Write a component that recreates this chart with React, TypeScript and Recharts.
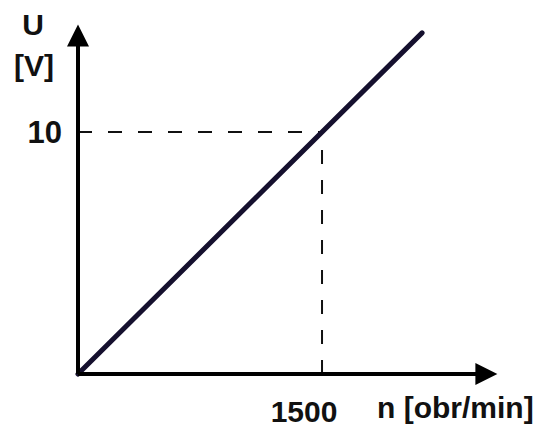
import React from "react";
import { LineChart, Line, XAxis, YAxis, ReferenceLine } from "recharts";

// characteristic U = f(n), straight line through the origin
const speeds = [0, 2115];
const voltages = [0, 14.1];
const refSpeed = 1500;
const refVoltage = 10;
const xTicks = [1500];
const yTicks = [10];

const data = speeds.map((n, i) => ({ n, u: voltages[i] }));

const font = "'Liberation Sans', Arial, sans-serif";

const YTick = (props: any) => (
  <text
    x={62}
    y={props.payload.coordinate + 11}
    textAnchor="end"
    fontFamily={font}
    fontWeight="bold"
    fontSize={31}
    fill="#111"
  >
    {props.payload.value}
  </text>
);

const XTick = (props: any) => (
  <text
    x={props.payload.coordinate - 18}
    y={422}
    textAnchor="middle"
    fontFamily={font}
    fontWeight="bold"
    fontSize={30}
    fill="#111"
  >
    {props.payload.value}
  </text>
);

export default function App() {
  return (
    <div style={{ position: "absolute", left: 0, top: 0, width: 554, height: 428, background: "#fff" }}>
      <svg width={0} height={0} style={{ position: "absolute" }}>
        <defs>
          <marker
            id="arrow"
            viewBox="0 0 10 10"
            refX="8"
            refY="5"
            markerUnits="userSpaceOnUse"
            markerWidth="34"
            markerHeight="22"
            orient="auto-start-reverse"
          >
            <path d="M0,0 L10,5 L0,10 z" fill="#000" />
          </marker>
        </defs>
      </svg>
      <LineChart
        width={554}
        height={428}
        data={data}
        margin={{ top: 29, right: 61, bottom: 44, left: 68 }}
      >
        <XAxis
          dataKey="n"
          type="number"
          domain={[0, 2551]}
          ticks={xTicks}
          height={10}
          axisLine={{ stroke: "#000", strokeWidth: 4, markerEnd: "url(#arrow)" }}
          tickLine={false}
          tick={<XTick />}
          interval={0}
        />
        <YAxis
          type="number"
          domain={[0, 14.26]}
          ticks={yTicks}
          width={10}
          axisLine={{ stroke: "#000", strokeWidth: 4, markerStart: "url(#arrow)" }}
          tickLine={false}
          tick={<YTick />}
          interval={0}
        />
        <ReferenceLine
          segment={[{ x: 0, y: refVoltage }, { x: refSpeed, y: refVoltage }]}
          stroke="#111"
          strokeWidth={2}
          strokeDasharray="14 16"
        />
        <ReferenceLine
          segment={[{ x: refSpeed, y: 0 }, { x: refSpeed, y: refVoltage }]}
          stroke="#111"
          strokeWidth={2}
          strokeDasharray="14 16"
        />
        <Line
          dataKey="u"
          stroke="#15102e"
          strokeWidth={5}
          strokeLinecap="round"
          dot={false}
          isAnimationActive={false}
        />
      </LineChart>
      <div style={{ position: "absolute", left: 0, top: 0, pointerEvents: "none" }}>
        <svg width={554} height={428}>
          <text x={33} y={35} textAnchor="middle" fontFamily={font} fontWeight="bold" fontSize={30} fill="#111">
            U
          </text>
          <text x={34} y={76} textAnchor="middle" fontFamily={font} fontWeight="bold" fontSize={30} fill="#111">
            [V]
          </text>
          <text x={377} y={418} fontFamily={font} fontWeight="bold" fontSize={30} fill="#111">
            n [obr/min]
          </text>
        </svg>
      </div>
    </div>
  );
}
